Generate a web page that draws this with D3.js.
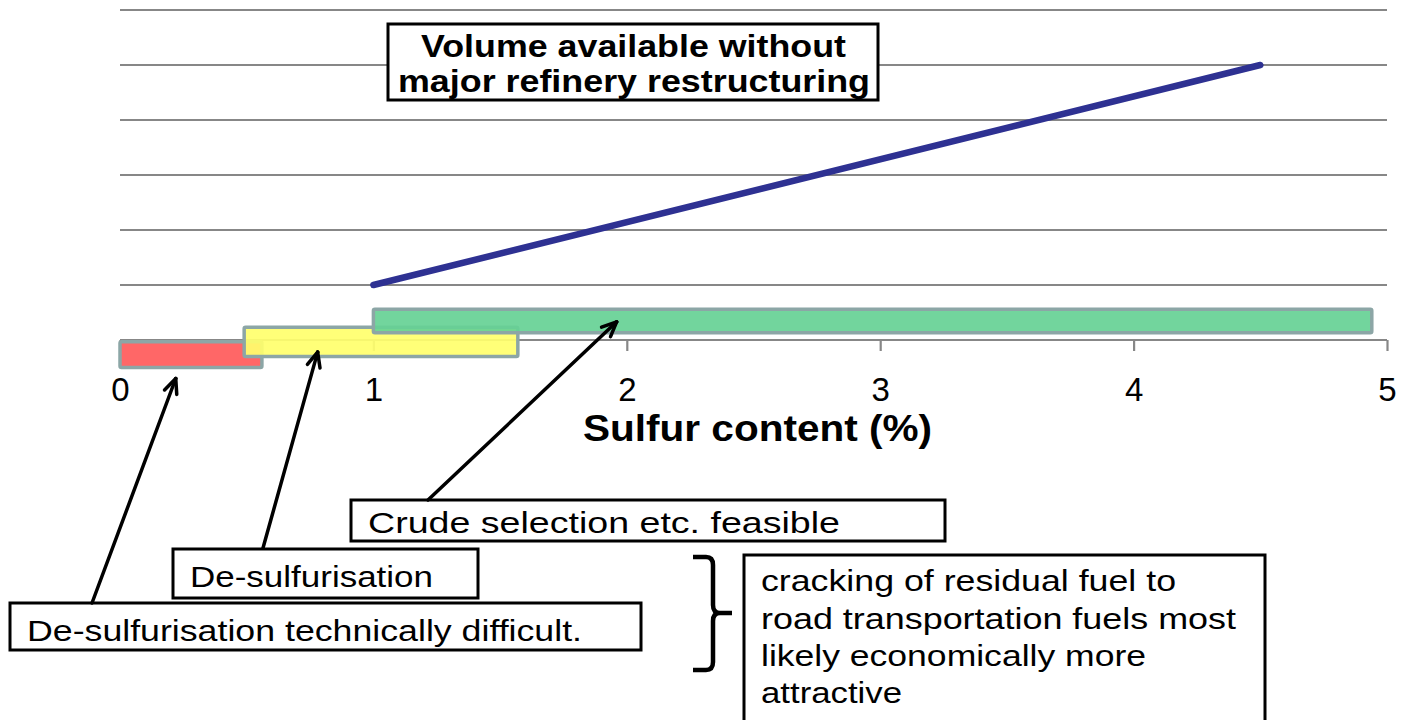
<!DOCTYPE html>
<html>
<head>
<meta charset="utf-8">
<script src="https://cdn.jsdelivr.net/npm/d3@7"></script>
<style>
  html, body { margin: 0; padding: 0; background: #fff; }
  svg { display: block; font-family: "Liberation Sans", Arial, sans-serif; }
</style>
</head>
<body>
<svg id="chart" width="1401" height="720"></svg>
<script>
// ---- data ----
const xTicks = [0, 1, 2, 3, 4, 5];
const xTickLabels = ["0", "1", "2", "3", "4", "5"];
const yGrid = [0, 1, 2, 3, 4, 5, 6];
const xLabel = "Sulfur content (%)";

// volume line (sulfur %, volume units)
const lineX = [1.0, 4.5];
const lineY = [1.0, 5.0];

// ranges of sulfur content (x0,x1) with band heights (y0,y1) in axis units
const bandNames = ["difficult", "desulf", "crude"];
const bandX0 = [0.0, 0.49, 1.0];
const bandX1 = [0.56, 1.57, 4.94];
const bandY0 = [-0.5, -0.3, 0.13];
const bandY1 = [-0.03, 0.23, 0.56];
const bandColors = ["#ff5a5a", "#ffff6c", "#66d195"];

// arrow targets (sulfur %, axis units)
const arrowTipX = [0.22, 0.78, 1.96];
const arrowTipY = [-0.7, -0.22, 0.33];

// ---- scales ----
const x = d3.scaleLinear().domain([0, 5]).range([120, 1387]);
const y = d3.scaleLinear().domain([0, 6]).range([340, 10]);

const svg = d3.select("#chart");

// gridlines
svg.append("g").selectAll("line").data(yGrid).join("line")
  .attr("x1", x(0)).attr("x2", x(5))
  .attr("y1", d => y(d)).attr("y2", d => y(d))
  .attr("stroke", "#878787").attr("stroke-width", 2.2);

// x axis ticks
const xAxis = d3.axisBottom(x).tickValues(xTicks)
  .tickFormat((d, i) => xTickLabels[i]).tickSize(11).tickPadding(27);
const ax = svg.append("g").attr("transform", `translate(0,${y(0)})`).call(xAxis);
ax.select(".domain").remove();
ax.selectAll(".tick line").attr("stroke", "#878787").attr("stroke-width", 2.2);
ax.selectAll(".tick text").attr("font-size", 33).attr("fill", "#000")
  .attr("font-family", "Liberation Sans, Arial, sans-serif");

// bands
svg.append("g").selectAll("rect").data(bandNames).join("rect")
  .attr("x", (d, i) => x(bandX0[i]))
  .attr("y", (d, i) => y(bandY1[i]))
  .attr("width", (d, i) => x(bandX1[i]) - x(bandX0[i]))
  .attr("height", (d, i) => y(bandY0[i]) - y(bandY1[i]))
  .attr("fill", (d, i) => bandColors[i])
  .attr("fill-opacity", 0.92)
  .attr("stroke", "#8ca6a6").attr("stroke-width", 3.5).attr("rx", 1.5);

// volume line
const lineData = lineX.map((v, i) => [v, lineY[i]]);
svg.append("path").datum(lineData)
  .attr("d", d3.line().x(d => x(d[0])).y(d => y(d[1])))
  .attr("stroke", "#2e3192").attr("stroke-width", 6.5)
  .attr("stroke-linecap", "round").attr("fill", "none");

// x label
svg.append("text").attr("x", 583).attr("y", 441)
  .attr("font-size", 37).attr("font-weight", "bold")
  .attr("textLength", 349).attr("lengthAdjust", "spacingAndGlyphs")
  .text(xLabel);

// helper: boxed text
function box(x0, y0, w, h, lines, opts) {
  const g = svg.append("g");
  g.append("rect").attr("x", x0).attr("y", y0).attr("width", w).attr("height", h)
    .attr("fill", "#fff").attr("stroke", "#000").attr("stroke-width", 3);
  lines.forEach(l => {
    g.append("text").attr("x", l.x).attr("y", l.y)
      .attr("font-size", opts.size).attr("font-weight", opts.weight || "normal")
      .attr("textLength", l.w).attr("lengthAdjust", "spacingAndGlyphs")
      .text(l.t);
  });
}

box(388, 24, 490, 76, [
  { t: "Volume available without", x: 421, y: 57, w: 425 },
  { t: "major refinery restructuring", x: 398, y: 92, w: 472 }
], { size: 32, weight: "bold" });

box(351, 500, 594, 41, [
  { t: "Crude selection etc. feasible", x: 368, y: 533, w: 472 }
], { size: 30 });

box(173, 549, 305, 49, [
  { t: "De-sulfurisation", x: 190, y: 587, w: 243 }
], { size: 30 });

box(10, 603, 631, 47, [
  { t: "De-sulfurisation technically difficult.", x: 27, y: 641, w: 555 }
], { size: 30 });

box(744, 555, 521, 180, [
  { t: "cracking of residual fuel to", x: 761, y: 591, w: 415 },
  { t: "road transportation fuels most", x: 761, y: 629, w: 475 },
  { t: "likely economically more", x: 761, y: 666, w: 385 },
  { t: "attractive", x: 761, y: 703, w: 141 }
], { size: 30 });

// arrows
const arrowStart = [[92, 603], [263, 548], [428, 500]];
const ag = svg.append("g").attr("stroke", "#000").attr("fill", "none")
  .attr("stroke-width", 3.5).attr("stroke-linecap", "round").attr("stroke-linejoin", "round");
arrowStart.forEach((s, i) => {
  const tx = x(arrowTipX[i]), ty = y(arrowTipY[i]);
  ag.append("line").attr("x1", s[0]).attr("y1", s[1]).attr("x2", tx).attr("y2", ty);
  const ang = Math.atan2(ty - s[1], tx - s[0]);
  const L = 16, spread = 0.42;
  [-spread, spread].forEach(a => {
    ag.append("line").attr("x1", tx).attr("y1", ty)
      .attr("x2", tx - L * Math.cos(ang + a)).attr("y2", ty - L * Math.sin(ang + a));
  });
});

// bracket
svg.append("path")
  .attr("d", "M693,557 L706,557 Q713,557 713,565 L713,605 Q713,613 720,613 L732,613 M720,613 Q713,613 713,621 L713,662 Q713,670 706,670 L693,670")
  .attr("stroke", "#000").attr("stroke-width", 4.5).attr("fill", "none");
</script>
</body>
</html>
